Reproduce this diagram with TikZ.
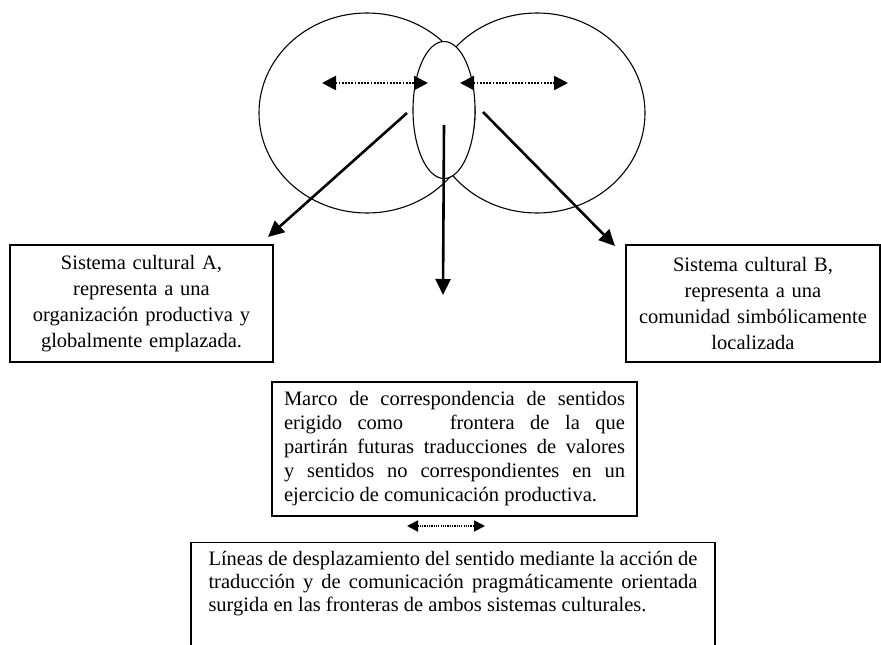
\documentclass[tikz,border=0pt]{standalone}
\usepackage{fontspec}
\setmainfont{Liberation Serif}
\usetikzlibrary{shapes.geometric,arrows.meta}

\tikzset{
  sistema/.style={ellipse,draw,line width=1.1pt,inner sep=0pt},
  caja/.style={draw,line width=1.3pt,inner xsep=10pt},
  flecha/.style={line width=2.6pt,-{Triangle[length=16pt,width=15pt]}},
  traduce/.style={line width=2.6pt,dash pattern=on 1.8pt off 1.4pt,
    {Triangle[length=14pt,width=14pt]}-{Triangle[length=14pt,width=14pt]}},
}

\begin{document}
\begin{tikzpicture}[x=1pt,y=-1pt]
        \clip (0,0) rectangle (881,645);

        \begin{scope}[every node/.style={sistema}]
          \node (A) at (367,113) [minimum width=216pt,minimum height=200pt] {};
          \node (B) at (537,113) [minimum width=216pt,minimum height=200pt] {};
          \node (F) at (444,110) [fill=white,minimum width=62pt,minimum height=137pt] {};
        \end{scope}

        \begin{scope}[every node/.style={caja}]
          \node (SA) at (141.5,303.5) [text width=243pt,align=center,minimum height=117pt,
            font=\fontsize{20.5}{26}\selectfont]
            {Sistema cultural A,\\ representa a una\\ organización productiva y\\ globalmente emplazada.};
          \node (SB) at (753,303.5) [text width=234pt,align=center,minimum height=117pt,
            font=\fontsize{20.5}{26}\selectfont]
            {Sistema cultural B,\\ representa a una\\ comunidad simbólicamente\\ localizada};
          \node (M) at (454.5,449) [text width=341pt,inner xsep=12pt,align=justify,minimum height=134pt,
            font=\fontsize{20.5}{24}\selectfont]
            {Marco de correspondencia de sentidos\linebreak erigido como\ \ \ frontera de la que\linebreak
             partirán futuras traducciones de valores\linebreak y sentidos no correspondientes en un\linebreak
             ejercicio de comunicación productiva.};
          \node (L) at (453,542) [anchor=north,text width=489pt,inner xsep=17.5pt,inner ysep=9pt,
            align=justify,text depth=140pt,font=\fontsize{20.5}{23}\selectfont]
            {Líneas de desplazamiento del sentido mediante la acción de\linebreak traducción y de comunicación
             pragmáticamente orientada\linebreak surgida en las fronteras de ambos sistemas culturales.};
        \end{scope}

        \coordinate (a1) at (322,83);
        \coordinate (a2) at (428,83);
        \coordinate (b1) at (460,83);
        \coordinate (b2) at (568,83);
        \coordinate (p1) at (407,113);
        \coordinate (p2) at (444,125);
        \coordinate (p3) at (483,112);
        \coordinate (ta) at (268,237);
        \coordinate (tm) at (443,295);
        \coordinate (tb) at (615,246);
        \coordinate (c1) at (407,526);
        \coordinate (c2) at (485,526);

        \begin{scope}[every edge/.style={draw}]
          \path (a1) edge[traduce] (a2);
          \path (b1) edge[traduce] (b2);
          \path (p1) edge[flecha] (ta);
          \path (p2) edge[flecha] (tm);
          \path (p3) edge[flecha] (tb);
          \path (c1) edge[traduce,line width=1.8pt,dash pattern=on 1.2pt off 1.1pt,
            {Triangle[length=11pt,width=11pt]}-{Triangle[length=11pt,width=11pt]}] (c2);
        \end{scope}

      \end{tikzpicture}
\end{document}
